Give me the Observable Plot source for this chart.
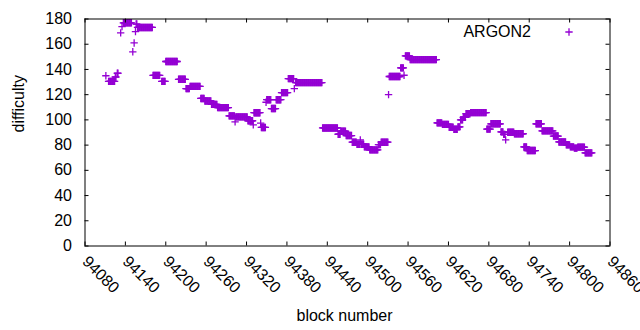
<!DOCTYPE html>
<html><head><meta charset="utf-8">
<script src="https://cdn.jsdelivr.net/npm/d3@7"></script>
<script src="https://cdn.jsdelivr.net/npm/@observablehq/plot@0.6"></script>
<style>body{margin:0;background:#fff}</style>
</head><body><div id="chart"></div>
<script>
// Runs of consecutive blocks that share one difficulty value
const runStart = [94111,94115,94125,94128,94133,94135,94137,94151,94153,94155,94156,94158,94181,94194,94200,94219,94230,94236,94252,94258,94268,94277,94294,94303,94304,94322,94330,94331,94341,94342,94349,94350,94357,94364,94372,94382,94391,94393,94433,94456,94460,94468,94477,94484,94489,94490,94495,94503,94516,94520,94531,94532,94549,94554,94556,94563,94603,94611,94621,94628,94634,94638,94642,94646,94653,94677,94683,94698,94702,94705,94708,94718,94732,94737,94750,94759,94776,94784,94795,94801,94807,94812,94823];
const runEnd   = [94111,94124,94126,94129,94133,94135,94149,94151,94153,94155,94157,94180,94191,94199,94217,94229,94235,94251,94257,94267,94276,94293,94302,94303,94321,94329,94330,94340,94341,94348,94349,94356,94363,94371,94381,94390,94391,94432,94455,94459,94467,94476,94483,94488,94489,94494,94502,94515,94519,94530,94531,94548,94553,94554,94562,94602,94610,94620,94627,94633,94637,94641,94645,94652,94676,94682,94697,94701,94704,94705,94717,94731,94736,94749,94758,94775,94783,94794,94800,94806,94811,94822,94833];
const runValue = [135,130.5,134,137,169,174,177,154,161,170,176,173.3,135.3,130.5,146.3,132.2,124.8,126.6,117,115,112.3,109.7,103.2,98.5,102.4,99.3,96,105.7,97.5,94,114,116,109,116,121.6,132.7,124.8,129.6,93.6,88.6,91,87.6,82.3,80.7,84.2,80.7,78.6,76.2,80.4,82.3,120,134.4,141.2,135.4,150.8,147.8,97.6,96.4,94.2,92.6,94.5,100,102,104.9,105.8,92.7,96.9,90.5,88.5,84.2,90.2,89,78.6,75.7,96.9,91.3,87.2,82.5,80.2,78.6,77.6,78.4,73.8];
const xTicks = [94080,94140,94200,94260,94320,94380,94440,94500,94560,94620,94680,94740,94800,94860];
const yTicks = [0,20,40,60,80,100,120,140,160,180];
const seriesName = "ARGON2";
const xLabel = "block number";
const yLabel = "difficulty";

const points = [];
runStart.forEach((s, i) => {
  for (let b = s; b <= runEnd[i]; b++) points.push({block: b, difficulty: runValue[i]});
});

const color = "#9400d3";
const chart = Plot.plot({
  width: 640, height: 330,
  marginLeft: 84.5, marginRight: 30.5, marginTop: 18.5, marginBottom: 84.5,
  style: {fontFamily: "'Liberation Sans', Arial, sans-serif", fontSize: "16px", background: "white", color: "black"},
  x: {domain: [94080, 94860]},
  y: {domain: [0, 180]},
  marks: [
    Plot.dot(points, {x: "block", y: "difficulty", symbol: "plus", r: 2.5, stroke: color, strokeWidth: 1.3}),
    Plot.tickX(xTicks, {x: d => d, insetTop: 223, stroke: "black"}),
    Plot.tickX(xTicks, {x: d => d, insetBottom: 223, stroke: "black"}),
    Plot.tickY(yTicks, {y: d => d, insetRight: 521, stroke: "black"}),
    Plot.tickY(yTicks, {y: d => d, insetLeft: 521, stroke: "black"}),
    Plot.frame({stroke: "black"}),
    Plot.axisY(yTicks, {tickSize: 0, tickPadding: 13, label: null}),
    Plot.axisX(xTicks, {tickSize: 0, tickRotate: 45, tickPadding: 13, label: null, tickFormat: d => String(d), textAnchor: "start"}),
    Plot.text([yLabel], {frameAnchor: "left", dx: -66, rotate: -90, lineAnchor: "middle", text: d => d}),
    Plot.text([xLabel], {frameAnchor: "bottom", dx: -3, dy: 70, lineAnchor: "middle", text: d => d}),
    Plot.text([seriesName], {frameAnchor: "top-right", dx: -79, dy: 13, textAnchor: "end", lineAnchor: "middle", text: d => d}),
    Plot.dot([seriesName], {x: null, y: null, frameAnchor: "top-right", dx: -41, dy: 13, symbol: "plus", r: 2.5, stroke: color, strokeWidth: 1.3})
  ]
});
document.getElementById("chart").appendChild(chart);
</script>
</body></html>
